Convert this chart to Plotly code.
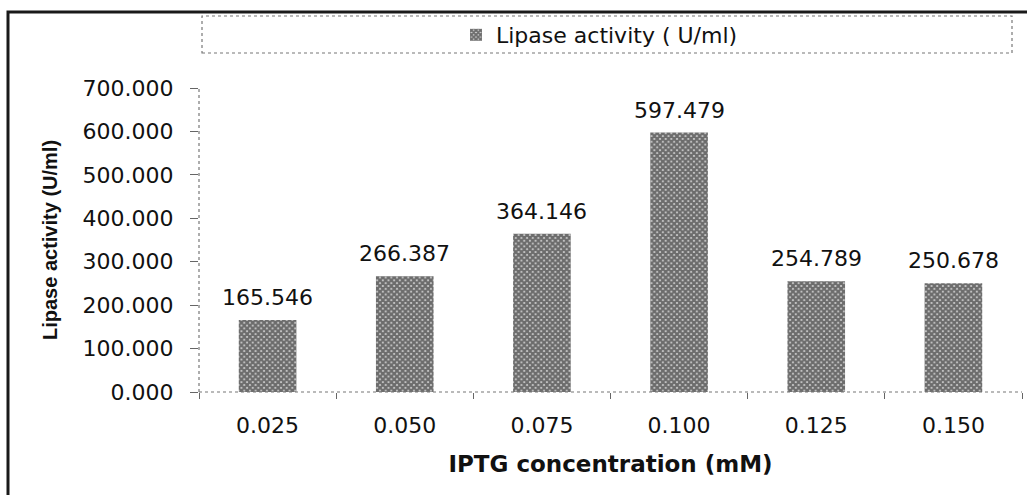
import plotly.graph_objects as go

categories = ["0.025", "0.050", "0.075", "0.100", "0.125", "0.150"]
lipase_activity = [165.546, 266.387, 364.146, 597.479, 254.789, 250.678]
series_name = "Lipase activity ( U/ml)"
y_ticks = [0, 100, 200, 300, 400, 500, 600, 700]

W, H = 1027, 495
L, R, T, B = 199, 5, 88, 103
PW, PH = W - L - R, H - T - B

def px(x):
    return (x - L) / PW

def py(y):
    return (H - B - y) / PH

FONT = "DejaVu Sans"

fig = go.Figure()
fig.add_trace(go.Bar(
    x=categories, y=lipase_activity, name=series_name,
    width=0.42,
    marker=dict(color="white", line=dict(width=0),
                pattern=dict(shape="x", fgcolor="#000000", bgcolor="#d8d8d8",
                             size=4, solidity=0.8)),
    showlegend=True,
))

annotations = []
for i, v in enumerate(lipase_activity):
    annotations.append(dict(x=i, y=v, xref="x", yref="y", text=f"{v:.3f}",
                            showarrow=False, yanchor="bottom", yshift=8,
                            font=dict(family=FONT, size=22, color="#111")))

shapes = [
    # outer frame
    dict(type="rect", xref="paper", yref="paper",
         x0=px(8), x1=px(1060), y0=py(530), y1=py(12),
         line=dict(color="#1a1a1a", width=3), layer="below"),
    # legend box
    dict(type="rect", xref="paper", yref="paper",
         x0=px(202), x1=px(1012), y0=py(53), y1=py(16),
         line=dict(color="#777", width=1.2, dash="dot")),
    # axis lines
    dict(type="line", xref="paper", yref="paper",
         x0=0, x1=0, y0=0, y1=1,
         line=dict(color="#777", width=1.2, dash="dot")),
    dict(type="line", xref="paper", yref="paper",
         x0=0, x1=1, y0=0, y1=0,
         line=dict(color="#777", width=1.2, dash="dot")),
]

fig.update_layout(
    width=W, height=H,
    margin=dict(l=L, r=R, t=T, b=B, autoexpand=False),
    paper_bgcolor="white", plot_bgcolor="white",
    font=dict(family=FONT, size=22, color="#111"),
    showlegend=True,
    legend=dict(x=px(456), y=py(35), xanchor="left", yanchor="middle",
                orientation="h", bgcolor="rgba(0,0,0,0)",
                font=dict(family=FONT, size=22, color="#111")),
    shapes=shapes,
    annotations=annotations,
)
fig.update_xaxes(
    type="category", showgrid=False, zeroline=False, showline=False,
    ticks="outside", tickson="boundaries", ticklen=6, tickcolor="#666",
    tickfont=dict(family=FONT, size=22, color="#111"),
    ticklabelstandoff=18,
    title=dict(text="<b>IPTG concentration (mM)</b>", standoff=18,
               font=dict(family=FONT, size=23, color="#111")),
    automargin=False,
)
fig.update_yaxes(
    range=[0, 700], tickvals=y_ticks, tickformat=".3f",
    showgrid=False, zeroline=False, showline=False,
    ticks="outside", ticklen=8, tickcolor="#666",
    tickfont=dict(family=FONT, size=22, color="#111"),
    ticklabelstandoff=12,
    title=dict(text="<b>Lipase activity (U/ml)</b>", standoff=19,
               font=dict(family="Liberation Sans", size=20, color="#111")),
    automargin=False,
)

fig.write_html("out.html", config={"displayModeBar": False},
               post_script="document.body.style.margin='0';")
